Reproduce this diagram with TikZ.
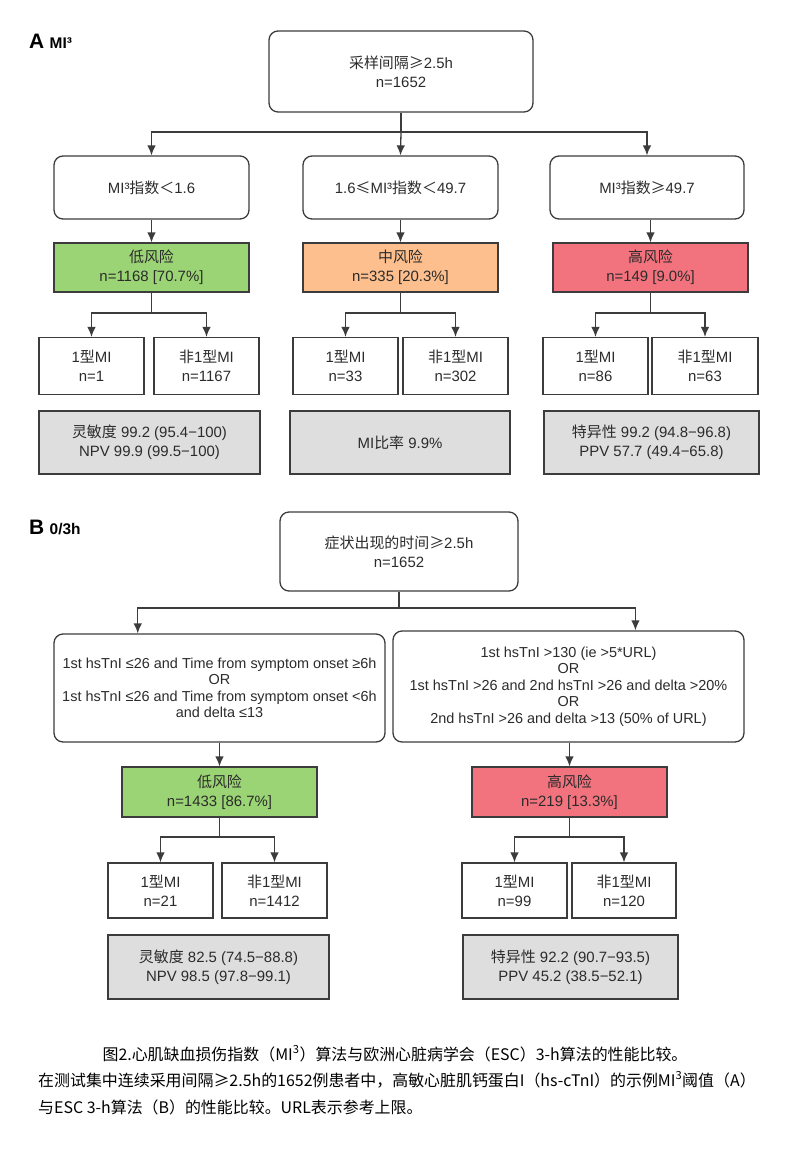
\documentclass[tikz,border=0pt]{standalone}
\usepackage{fontspec}
\setmainfont{Liberation Sans}
\newfontfamily\cjk{Noto Sans CJK SC}
\newcommand\zh[1]{{\cjk #1}}
\usetikzlibrary{arrows.meta,calc}
\definecolor{lc}{HTML}{3C3C3C}
\definecolor{tc}{HTML}{2B2B2B}
\definecolor{gfill}{HTML}{9BD474}
\definecolor{ofill}{HTML}{FCBF8D}
\definecolor{rfill}{HTML}{F2737E}
\definecolor{grfill}{HTML}{DEDEDE}
\begin{document}
\begin{tikzpicture}[x=1bp,y=-1bp,
 every node/.style={text=tc, font=\fontsize{15}{19}\selectfont},
 bx/.style={draw=lc, line width=1.3bp, align=center, inner sep=0pt},
 rbx/.style={bx, rounded corners=9bp},
 sz/.style 2 args={minimum width=#1bp, minimum height=#2bp},
 arr/.style={draw=lc, line width=1.3bp, -{Latex[length=10bp,width=8.5bp]}},
 ln/.style={draw=lc, line width=1.3bp},
 small/.style={font=\fontsize{14.5}{16.5}\selectfont},
 lab/.style={anchor=base west, inner sep=0pt, font=\bfseries\fontsize{21}{21}\selectfont, text=black},
 sublab/.style={anchor=base west, inner sep=0pt, font=\bfseries\fontsize{15.5}{15.5}\selectfont, text=black},
 captxt/.style={text=black, font=\cjk\fontsize{16}{16}\selectfont, inner sep=0pt},
]
\useasboundingbox (0,0) rectangle (800,1161);

% ---------------- Panel A ----------------
\node[lab] (labA) at (29,48) {A};
\node[sublab, xshift=5bp] (subA) at (labA.base east) {MI³};

\node[rbx, sz={264}{81}] (topA) at (401,71.5) {\zh{采样间隔≥}2.5h\\n=1652};

\node[rbx, sz={195}{63}] (condL) at (151.5,187.5) {MI³\zh{指数＜}1.6};
\node[rbx, sz={195}{63}] (condM) at (400.5,187.5) {1.6\zh{≤}MI³\zh{指数＜}49.7};
\node[rbx, sz={194}{63}] (condR) at (647,187.5) {MI³\zh{指数≥}49.7};

\coordinate (jA) at (401,132);
\draw[ln] (topA.south) -- (jA);
\draw[arr] (jA) -| (condL.north);
\draw[arr] (jA) -- (condM.north);
\draw[arr] (jA) -| (condR.north);

\node[bx, fill=gfill, sz={195}{49}] (riskL) at (151.5,267.5) {\zh{低风险}\\n=1168 [70.7\%]};
\node[bx, fill=ofill, sz={195}{49}] (riskM) at (400.5,267.5) {\zh{中风险}\\n=335 [20.3\%]};
\node[bx, fill=rfill, sz={195}{49}] (riskR) at (650.5,267.5) {\zh{高风险}\\n=149 [9.0\%]};

\draw[arr] (condL.south) -- (riskL.north);
\draw[arr] (condM.south) -- (riskM.north);
\draw[arr] (condR.south -| riskR.north) -- (riskR.north);

\node[bx, sz={105}{57}] (L1) at (91.5,366) {1\zh{型}MI\\n=1};
\node[bx, sz={105}{57}] (L2) at (206.5,366) {\zh{非}1\zh{型}MI\\n=1167};
\node[bx, sz={105}{57}] (M1) at (345.5,366) {1\zh{型}MI\\n=33};
\node[bx, sz={105}{57}] (M2) at (455.5,366) {\zh{非}1\zh{型}MI\\n=302};
\node[bx, sz={105}{57}] (R1) at (595.5,366) {1\zh{型}MI\\n=86};
\node[bx, sz={106}{57}] (R2) at (705,366) {\zh{非}1\zh{型}MI\\n=63};

\foreach \p/\a/\b in {riskL/L1/L2, riskM/M1/M2, riskR/R1/R2}{
  \coordinate (j\p) at (\p.south |- 0,313);
  \draw[ln] (\p.south) -- (j\p);
  \draw[arr] (j\p) -| (\a.north);
  \draw[arr] (j\p) -| (\b.north);
}

\node[bx, fill=grfill, sz={221}{63}] (GL) at (149.5,442.5) {\zh{灵敏度} 99.2 (95.4−100)\\NPV 99.9 (99.5−100)};
\node[bx, fill=grfill, sz={220}{63}] (GM) at (400,442.5) {MI\zh{比率} 9.9\%};
\node[bx, fill=grfill, sz={215}{63}] (GR) at (651.5,442.5) {\zh{特异性} 99.2 (94.8−96.8)\\PPV 57.7 (49.4−65.8)};

% ---------------- Panel B ----------------
\node[lab] (labB) at (29,534) {B};
\node[sublab, xshift=5bp] (subB) at (labB.base east) {0/3h};

\node[rbx, sz={238}{79}] (topB) at (399,551.5) {\zh{症状出现的时间≥}2.5h\\n=1652};

\node[rbx, small, sz={331}{108}] (condBL) at (219.5,688) {1st hsTnI ≤26 and Time from symptom onset ≥6h\\OR\\1st hsTnI ≤26 and Time from symptom onset <6h\\and delta ≤13};
\node[rbx, small, sz={351}{111}] (condBR) at (568.5,686.5) {1st hsTnI >130 (ie >5*URL)\\OR\\1st hsTnI >26 and 2nd hsTnI >26 and delta >20\%\\OR\\2nd hsTnI >26 and delta >13 (50\% of URL)};

\coordinate (jB) at (399,608);
\draw[ln] (topB.south) -- (jB);
\draw[arr] (jB) -| ($(condBL.north west)!0.254!(condBL.north east)$);
\draw[arr] (jB) -| ($(condBR.north west)!0.69!(condBR.north east)$);

\node[bx, fill=gfill, sz={195}{50}] (lowB) at (219.5,792) {\zh{低风险}\\n=1433 [86.7\%]};
\node[bx, fill=rfill, sz={195}{50}] (highB) at (569.5,792) {\zh{高风险}\\n=219 [13.3\%]};
\draw[arr] (condBL.south -| lowB.north) -- (lowB.north);
\draw[arr] (condBR.south -| highB.north) -- (highB.north);

\node[bx, sz={105}{55}] (BL1) at (160.5,890.5) {1\zh{型}MI\\n=21};
\node[bx, sz={105}{55}] (BL2) at (274.5,890.5) {\zh{非}1\zh{型}MI\\n=1412};
\node[bx, sz={105}{55}] (BR1) at (514.5,890.5) {1\zh{型}MI\\n=99};
\node[bx, sz={104}{55}] (BR2) at (624,890.5) {\zh{非}1\zh{型}MI\\n=120};

\foreach \p/\a/\b in {lowB/BL1/BL2, highB/BR1/BR2}{
  \coordinate (j\p) at (\p.south |- 0,837);
  \draw[ln] (\p.south) -- (j\p);
  \draw[arr] (j\p) -| (\a.north);
  \draw[arr] (j\p) -| (\b.north);
}

\node[bx, fill=grfill, sz={221}{64}] (GBL) at (218.5,967) {\zh{灵敏度} 82.5 (74.5−88.8)\\NPV 98.5 (97.8−99.1)};
\node[bx, fill=grfill, sz={215}{64}] (GBR) at (570.5,967) {\zh{特异性} 92.2 (90.7−93.5)\\PPV 45.2 (38.5−52.1)};

% ---------------- Caption ----------------
\node[captxt, anchor=base] (cap1) at (395,1060) {图2.心肌缺血损伤指数（MI\textsuperscript{3}）算法与欧洲心脏病学会（ESC）3-h算法的性能比较。};
\node[captxt, anchor=base west] (cap2) at (38,1086) {在测试集中连续采用间隔≥2.5h的1652例患者中，高敏心脏肌钙蛋白I（hs-cTnI）的示例MI\textsuperscript{3}阈值（A）};
\node[captxt, anchor=base west] (cap3) at (38,1113) {与ESC 3-h算法（B）的性能比较。URL表示参考上限。};
\end{tikzpicture}
\end{document}
